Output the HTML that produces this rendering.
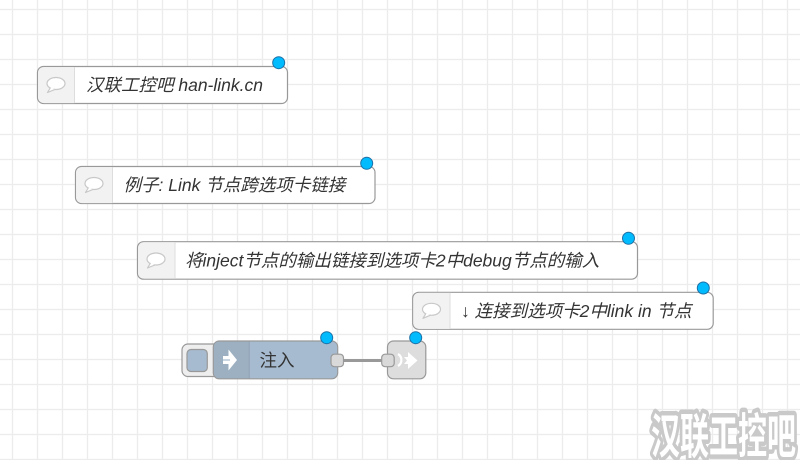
<!DOCTYPE html>
<html><head><meta charset="utf-8">
<style>
html,body{margin:0;padding:0;background:#fff;}
svg{display:block;}
.lbl{font-family:"Liberation Sans","Noto Sans CJK SC",sans-serif;font-size:17.5px;fill:#333;}
.it{font-style:italic;}
</style></head>
<body>
<svg width="800" height="460" viewBox="0 0 800 460" xmlns="http://www.w3.org/2000/svg">
<defs>
<pattern id="g" x="0" y="0" width="25" height="25" patternUnits="userSpaceOnUse">
<line x1="12.5" y1="0" x2="12.5" y2="25" stroke="#ececec" stroke-width="1.3"/>
<line x1="0" y1="9.5" x2="25" y2="9.5" stroke="#ececec" stroke-width="1.3"/>
</pattern>
</defs>
<rect width="800" height="460" fill="#fff"/>
<rect width="800" height="460" fill="url(#g)"/>

<!-- Comment 1 -->
<g>
<rect x="37.5" y="66.5" width="250" height="37" rx="6" fill="#fff" stroke="#999" stroke-width="1.2"/>
<path d="M38.1 72.5 a6 6 0 0 1 6 -5.4 h30.4 v36 h-30.4 a6 6 0 0 1 -6 -5.4z" fill="#f2f2f2"/>
<line x1="74.5" y1="67" x2="74.5" y2="103" stroke="#ddd" stroke-width="1"/>
<ellipse cx="56" cy="83.5" rx="9" ry="6" fill="#fff" stroke="#c8c8c8" stroke-width="1.2"/>
<path d="M50.5 87.5 L47.5 92.5 L55 89.4" fill="#fff" stroke="#c8c8c8" stroke-width="1.2" stroke-linejoin="round"/>
<text x="86" y="91" class="lbl it">汉联工控吧 han-link.cn</text>
<circle cx="278.7" cy="62.7" r="6" fill="#00bcff" stroke="#1d6fa5" stroke-width="1"/>
</g>

<!-- Comment 2 -->
<g>
<rect x="75.5" y="166.5" width="299.5" height="37" rx="6" fill="#fff" stroke="#999" stroke-width="1.2"/>
<path d="M76.1 172.5 a6 6 0 0 1 6 -5.4 h30.4 v36 h-30.4 a6 6 0 0 1 -6 -5.4z" fill="#f2f2f2"/>
<line x1="112.5" y1="167" x2="112.5" y2="203" stroke="#ddd" stroke-width="1"/>
<ellipse cx="94" cy="183.5" rx="9" ry="6" fill="#fff" stroke="#c8c8c8" stroke-width="1.2"/>
<path d="M88.5 187.5 L85.5 192.5 L93 189.4" fill="#fff" stroke="#c8c8c8" stroke-width="1.2" stroke-linejoin="round"/>
<text x="123.5" y="191" class="lbl it">例子: Link 节点跨选项卡链接</text>
<circle cx="366.7" cy="163.3" r="6" fill="#00bcff" stroke="#1d6fa5" stroke-width="1"/>
</g>

<!-- Comment 3 -->
<g>
<rect x="137.5" y="241.7" width="500" height="37.5" rx="6" fill="#fff" stroke="#999" stroke-width="1.2"/>
<path d="M138.1 247.7 a6 6 0 0 1 6 -5.4 h30.9 v36.3 h-30.9 a6 6 0 0 1 -6 -5.4z" fill="#f2f2f2"/>
<line x1="175" y1="242.2" x2="175" y2="278.7" stroke="#ddd" stroke-width="1"/>
<ellipse cx="156" cy="259" rx="9" ry="6" fill="#fff" stroke="#c8c8c8" stroke-width="1.2"/>
<path d="M150.5 263 L147.5 268 L155 264.9" fill="#fff" stroke="#c8c8c8" stroke-width="1.2" stroke-linejoin="round"/>
<text x="185" y="266.5" class="lbl it">将inject节点的输出链接到选项卡2中debug节点的输入</text>
<circle cx="628.5" cy="238.3" r="6" fill="#00bcff" stroke="#1d6fa5" stroke-width="1"/>
</g>

<!-- Comment 4 -->
<g>
<rect x="412.7" y="292.3" width="300.5" height="37" rx="6" fill="#fff" stroke="#999" stroke-width="1.2"/>
<path d="M413.3 298.3 a6 6 0 0 1 6 -5.4 h30.7 v36 h-30.7 a6 6 0 0 1 -6 -5.4z" fill="#f2f2f2"/>
<line x1="450" y1="292.8" x2="450" y2="328.8" stroke="#ddd" stroke-width="1"/>
<ellipse cx="431.5" cy="309.3" rx="9" ry="6" fill="#fff" stroke="#c8c8c8" stroke-width="1.2"/>
<path d="M426 313.3 L423 318.3 L430.5 315.2" fill="#fff" stroke="#c8c8c8" stroke-width="1.2" stroke-linejoin="round"/>
<text x="461" y="317" class="lbl it">↓ 连接到选项卡2中link in 节点</text>
<circle cx="703.3" cy="288" r="6" fill="#00bcff" stroke="#1d6fa5" stroke-width="1"/>
</g>

<!-- wire -->
<line x1="343" y1="360.5" x2="383" y2="360.5" stroke="#999" stroke-width="3"/>

<!-- Inject node -->
<g>
<rect x="182" y="344" width="40" height="32.5" rx="6" fill="#eee" stroke="#999" stroke-width="1.2"/>
<rect x="187" y="349.5" width="20.3" height="22" rx="4" fill="#a6bbcf" stroke="#999" stroke-width="1.2"/>
<rect x="213.3" y="341" width="124.4" height="37.8" rx="6" fill="#a6bbcf" stroke="#999" stroke-width="1.2"/>
<path d="M213.9 347 a6 6 0 0 1 6 -5.4 h29.4 v36.6 h-29.4 a6 6 0 0 1 -6 -5.4z" fill="#000" fill-opacity="0.06"/>
<line x1="249.3" y1="341.6" x2="249.3" y2="378.2" stroke="#000" stroke-opacity="0.1" stroke-width="1"/>
<path d="M223 356 h5.5 v-6.5 l8.5 10.5 l-8.5 10.5 v-6.5 h-5.5z" fill="#fff"/>
<line x1="223" y1="360" x2="230" y2="360" stroke="#a6bbcf" stroke-width="1.2"/>
<text x="259.5" y="366.5" class="lbl">注入</text>
<rect x="331" y="354.2" width="12.5" height="12.5" rx="3.5" fill="#d9d9d9" stroke="#999" stroke-width="1.2"/>
<circle cx="326.7" cy="337.7" r="6" fill="#00bcff" stroke="#1d6fa5" stroke-width="1"/>
</g>

<!-- Link out node -->
<g>
<rect x="387.5" y="341" width="38.3" height="37.8" rx="6" fill="#ddd" stroke="#999" stroke-width="1.2"/>
<path d="M398 354 a7 7 0 0 1 0 12" fill="none" stroke="#fff" stroke-width="2.2"/>
<path d="M404 357 h4 v-5 l9.5 8.5 l-9.5 8.5 v-5 h-4 l3 -3.5z" fill="#fff"/>
<rect x="381.7" y="354.2" width="12.5" height="12.5" rx="3.5" fill="#d9d9d9" stroke="#999" stroke-width="1.2"/>
<circle cx="415.7" cy="337.7" r="6" fill="#00bcff" stroke="#1d6fa5" stroke-width="1"/>
</g>

<!-- watermark -->
<text x="651" y="453" font-family="'Noto Sans CJK SC','WenQuanYi Zen Hei',sans-serif" font-size="48" font-weight="bold" textLength="145" lengthAdjust="spacingAndGlyphs" fill="#fff" stroke="#c9c9c9" stroke-width="9" stroke-linejoin="round" paint-order="stroke">汉联工控吧</text>
</svg>
</body></html>
